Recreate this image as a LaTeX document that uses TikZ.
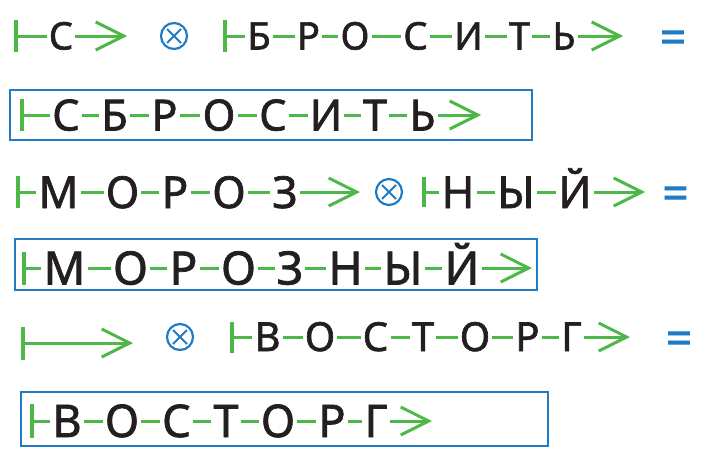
\documentclass[tikz,border=0pt]{standalone}
\usepackage{fontspec}
\setmainfont[FakeBold=1.6]{Noto Sans}
\usetikzlibrary{arrows.meta}
\definecolor{grn}{HTML}{4DB848}
\definecolor{blu}{HTML}{1E7BC6}
\definecolor{ink}{HTML}{231F20}
\begin{document}
\begin{tikzpicture}[x=1pt,y=-1pt,
  lt/.style={inner sep=0pt, text depth=0pt, text=ink, anchor=center},
  ra/.style={lt, font=\fontsize{38}{38}\selectfont, text height=27pt},
  rb/.style={lt, font=\fontsize{43}{43}\selectfont, text height=31pt},
  rc/.style={lt, font=\fontsize{44}{44}\selectfont, text height=32pt},
  rd/.style={lt, font=\fontsize{46}{46}\selectfont, text height=33pt},
  re/.style={lt, font=\fontsize{40}{40}\selectfont, text height=28pt},
  rf/.style={lt, font=\fontsize{45}{45}\selectfont, text height=32pt},
  lnk/.style={draw=grn, line width=3pt, shorten <=2pt, shorten >=2pt},
  stl/.style={draw=grn, line width=3pt, shorten >=2pt},
  arl/.style={draw=grn, line width=3pt, shorten <=2pt, -{Straight Barb[length=28pt,width=28pt]}},
  fullarr/.style={draw=grn, line width=3pt, -{Straight Barb[length=28pt,width=28pt]}},
  bar/.style={draw=grn, line width=3.5pt},
  ot/.style={circle, draw=blu, line width=2.2pt, minimum size=26pt, inner sep=0pt,
    path picture={\draw[blu, line width=2pt]
      ([shift={(-7pt,-7pt)}]path picture bounding box.center) -- ([shift={(7pt,7pt)}]path picture bounding box.center)
      ([shift={(-7pt,7pt)}]path picture bounding box.center) -- ([shift={(7pt,-7pt)}]path picture bounding box.center);}},
  eq/.style={text=blu, font=\fontsize{46}{46}\selectfont, inner sep=0pt},
  box/.style={draw=blu, line width=2pt}]
\useasboundingbox (0,0) rectangle (715,463);

% ---- Row 1 ----
\coordinate (s1) at (16,36);
\node[ra] (a1) at (61,36) {С};
\coordinate (e1) at (127,36);
\node[ot] (x1) at (174,36) {};
\coordinate (s2) at (225,36);
\node[ra] (b1) at (259,36) {Б};
\node[ra] (b2) at (308.5,36) {Р};
\node[ra] (b3) at (355,36) {О};
\node[ra] (b4) at (415.5,36) {С};
\node[ra] (b5) at (468.5,36) {И};
\node[ra] (b6) at (519.5,36) {Т};
\node[ra] (b7) at (564,36) {Ь};
\coordinate (e2) at (623,36);
\node[eq] (q1) at (673,42) {=};
\draw[bar] (s1) ++(0,-16) -- ++(0,32);
\draw[stl] (s1) -- (a1);
\draw[arl] (a1) -- (e1);
\draw[bar] (s2) ++(0,-16) -- ++(0,32);
\draw[stl] (s2) -- (b1);
\draw[lnk] (b1) -- (b2);
\draw[lnk] (b2) -- (b3);
\draw[lnk] (b3) -- (b4);
\draw[lnk] (b4) -- (b5);
\draw[lnk] (b5) -- (b6);
\draw[lnk] (b6) -- (b7);
\draw[arl] (b7) -- (e2);

% ---- Row 2 ----
\draw[box] (10,90) rectangle (532,140);
\coordinate (s3) at (22,115);
\node[rb] (c1) at (66,115) {С};
\node[rb] (c2) at (114.5,115) {Б};
\node[rb] (c3) at (164.5,115) {Р};
\node[rb] (c4) at (219,115) {О};
\node[rb] (c5) at (273,115) {С};
\node[rb] (c6) at (326,115) {И};
\node[rb] (c7) at (375,115) {Т};
\node[rb] (c8) at (422.5,115) {Ь};
\coordinate (e3) at (481,115);
\draw[bar] (s3) ++(0,-16) -- ++(0,32);
\draw[stl] (s3) -- (c1);
\draw[lnk] (c1) -- (c2);
\draw[lnk] (c2) -- (c3);
\draw[lnk] (c3) -- (c4);
\draw[lnk] (c4) -- (c5);
\draw[lnk] (c5) -- (c6);
\draw[lnk] (c6) -- (c7);
\draw[lnk] (c7) -- (c8);
\draw[arl] (c8) -- (e3);

% ---- Row 3 ----
\coordinate (s4) at (18,192);
\node[rc] (d1) at (58.5,192) {М};
\node[rc] (d2) at (122.5,192) {О};
\node[rc] (d3) at (175,192) {Р};
\node[rc] (d4) at (229,192) {О};
\node[rc] (d5) at (285,192) {З};
\coordinate (e4) at (360,192);
\node[ot] (x2) at (389,192) {};
\coordinate (s5) at (424,192);
\node[rc] (f1) at (458,192) {Н};
\node[rc] (f2) at (516,192) {Ы};
\node[rc] (f3) at (575,192) {Й};
\coordinate (e5) at (645,192);
\node[eq] (q2) at (675.5,198) {=};
\draw[bar] (s4) ++(0,-16) -- ++(0,32);
\draw[stl] (s4) -- (d1);
\draw[lnk] (d1) -- (d2);
\draw[lnk] (d2) -- (d3);
\draw[lnk] (d3) -- (d4);
\draw[lnk] (d4) -- (d5);
\draw[arl] (d5) -- (e4);
\draw[bar] (s5) ++(0,-15) -- ++(0,30);
\draw[stl] (s5) -- (f1);
\draw[lnk] (f1) -- (f2);
\draw[lnk] (f2) -- (f3);
\draw[arl] (f3) -- (e5);

% ---- Row 4 ----
\draw[box] (14.5,239) rectangle (537,290);
\coordinate (s6) at (24,268);
\node[rd] (g1) at (64.5,268) {М};
\node[rd] (g2) at (130.5,268) {О};
\node[rd] (g3) at (183.5,268) {Р};
\node[rd] (g4) at (238.5,268) {О};
\node[rd] (g5) at (290,268) {З};
\node[rd] (g6) at (345.5,268) {Н};
\node[rd] (g7) at (403,268) {Ы};
\node[rd] (g8) at (462,268) {Й};
\coordinate (e6) at (532,268);
\draw[bar] (s6) ++(0,-16) -- ++(0,33);
\draw[stl] (s6) -- (g1);
\draw[lnk] (g1) -- (g2);
\draw[lnk] (g2) -- (g3);
\draw[lnk] (g3) -- (g4);
\draw[lnk] (g4) -- (g5);
\draw[lnk] (g5) -- (g6);
\draw[lnk] (g6) -- (g7);
\draw[lnk] (g7) -- (g8);
\draw[arl] (g8) -- (e6);

% ---- Row 5 ----
\coordinate (s7) at (23,343);
\coordinate (e7) at (133,343);
\node[ot] (x3) at (180,337) {};
\coordinate (s8) at (232,337);
\node[re] (h1) at (267.5,337) {В};
\node[re] (h2) at (320,337) {О};
\node[re] (h3) at (375.5,337) {С};
\node[re] (h4) at (423,337) {Т};
\node[re] (h5) at (475,337) {О};
\node[re] (h6) at (527.5,337) {Р};
\node[re] (h7) at (571.5,337) {Г};
\coordinate (e8) at (630,337);
\node[eq] (q3) at (679,343) {=};
\draw[bar] (s7) ++(0,-16.5) -- ++(0,33);
\draw[fullarr] (s7) -- (e7);
\draw[bar] (s8) ++(0,-15.5) -- ++(0,31);
\draw[stl] (s8) -- (h1);
\draw[lnk] (h1) -- (h2);
\draw[lnk] (h2) -- (h3);
\draw[lnk] (h3) -- (h4);
\draw[lnk] (h4) -- (h5);
\draw[lnk] (h5) -- (h6);
\draw[lnk] (h6) -- (h7);
\draw[arl] (h7) -- (e8);

% ---- Row 6 ----
\draw[box] (21,392) rectangle (548,446);
\coordinate (s9) at (32,421);
\node[rf] (k1) at (67,421) {В};
\node[rf] (k2) at (122,421) {О};
\node[rf] (k3) at (176.5,421) {С};
\node[rf] (k4) at (226,421) {Т};
\node[rf] (k5) at (278,421) {О};
\node[rf] (k6) at (332,421) {Р};
\node[rf] (k7) at (376,421) {Г};
\coordinate (e9) at (432,421);
\draw[bar] (s9) ++(0,-17) -- ++(0,34);
\draw[stl] (s9) -- (k1);
\draw[lnk] (k1) -- (k2);
\draw[lnk] (k2) -- (k3);
\draw[lnk] (k3) -- (k4);
\draw[lnk] (k4) -- (k5);
\draw[lnk] (k5) -- (k6);
\draw[lnk] (k6) -- (k7);
\draw[arl] (k7) -- (e9);
\end{tikzpicture}
\end{document}
